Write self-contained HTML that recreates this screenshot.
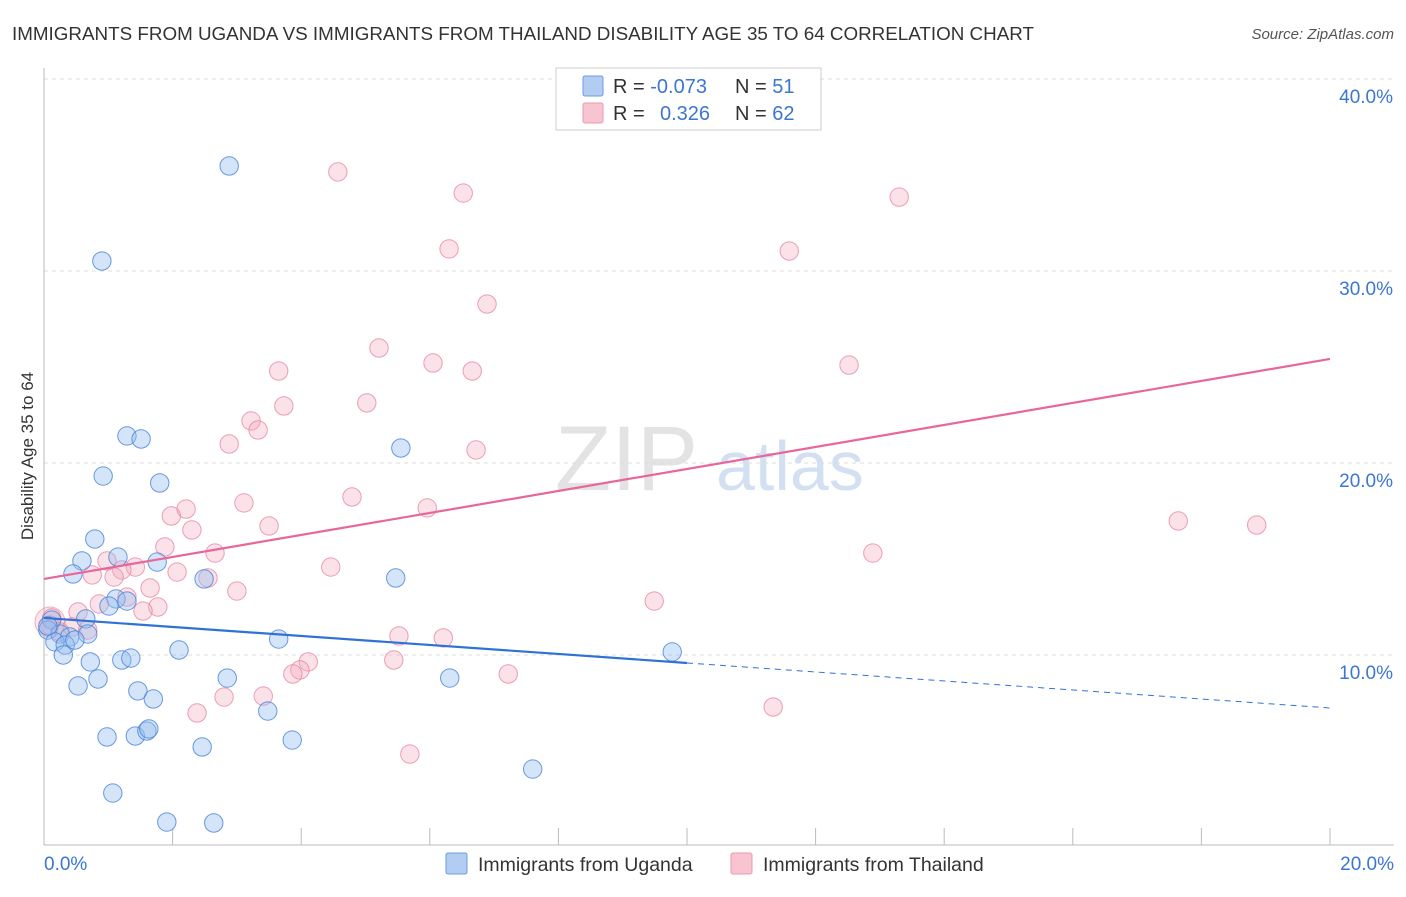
<!DOCTYPE html>
<html><head><meta charset="utf-8"><style>
body{margin:0;background:#fff;font-family:"Liberation Sans",sans-serif;}
svg text{font-family:"Liberation Sans",sans-serif;}
</style></head><body>
<svg id="c" width="1406" height="892" xmlns="http://www.w3.org/2000/svg">
<text x="12" y="40" font-size="18" fill="#333" textLength="1022" lengthAdjust="spacingAndGlyphs">IMMIGRANTS FROM UGANDA VS IMMIGRANTS FROM THAILAND DISABILITY AGE 35 TO 64 CORRELATION CHART</text>
<text x="1394" y="39" font-size="15" fill="#555" font-style="italic" text-anchor="end">Source: ZipAtlas.com</text>
<text x="33" y="456" font-size="17" fill="#333" text-anchor="middle" transform="rotate(-90 33 456)">Disability Age 35 to 64</text>
<g><text x="555" y="490" font-size="92" fill="#ddd" font-family="Liberation Serif" opacity="0.8">ZIP</text><text x="716" y="490" font-size="70" fill="#c9d9ef" opacity="0.8">atlas</text></g>
<g id="grid"></g>
<g id="axes"></g>
<g id="pts"></g>
<g id="lines"></g>
<g>
<rect x="556" y="68" width="265" height="62" fill="#fff" stroke="#ccc"/>
<rect x="583" y="76" width="20" height="20" fill="#b3cdf2" stroke="#6a9be0" rx="2"/>
<rect x="583" y="103" width="20" height="20" fill="#f8c4d2" stroke="#ea9ab1" rx="2"/>
<text x="613" y="93" font-size="20" fill="#333">R = <tspan fill="#3b76d0">-0.073</tspan><tspan x="735">N = </tspan><tspan fill="#3b76d0">51</tspan></text>
<text x="613" y="120" font-size="20" fill="#333">R = <tspan x="660" fill="#3b76d0">0.326</tspan><tspan x="735">N = </tspan><tspan fill="#3b76d0">62</tspan></text>
</g>
<g>
<rect x="446" y="853" width="21" height="21" fill="#b3cdf2" stroke="#6a9be0" rx="2"/>
<text x="478" y="871" font-size="19.5" fill="#333">Immigrants from Uganda</text>
<rect x="731" y="853" width="21" height="21" fill="#f8c4d2" stroke="#ea9ab1" rx="2"/>
<text x="763" y="871" font-size="19.5" fill="#333">Immigrants from Thailand</text>
</g>
</svg>
<script>
const yTicks=[10,20,30,40];
const yTickLabels=["10.0%","20.0%","30.0%","40.0%"];
const xTickLabels=["0.0%","20.0%"];
const ugandaX=[2.88,0.90,1.29,1.51,0.92,1.80,5.55,0.79,0.59,1.15,1.76,0.45,2.49,5.47,1.12,1.29,1.01,0.65,0.12,0.06,0.25,0.40,0.68,0.17,0.33,0.48,0.30,3.65,2.10,9.77,0.72,1.21,1.35,0.53,0.84,2.85,6.31,1.46,1.70,3.48,0.98,1.42,1.60,1.63,2.46,3.86,7.60,1.07,1.91,2.64,0.06];
const ugandaY=[35.47,30.52,21.41,21.25,19.32,18.96,20.78,16.04,14.90,15.10,14.84,14.22,13.96,14.01,12.92,12.81,12.55,11.88,11.82,11.30,11.09,10.94,11.09,10.68,10.52,10.78,10.00,10.83,10.26,10.16,9.64,9.74,9.84,8.39,8.75,8.80,8.80,8.13,7.71,7.08,5.73,5.78,6.04,6.15,5.21,5.57,4.06,2.81,1.30,1.25,11.51];
const thaiX=[4.57,6.52,13.30,6.30,11.59,6.89,5.21,6.05,3.65,6.66,12.52,5.02,3.73,3.22,3.33,2.88,6.72,4.79,3.11,2.21,1.98,5.96,3.50,2.30,17.64,18.86,1.88,2.66,12.89,0.98,1.42,1.21,0.75,2.07,4.46,1.09,2.55,1.65,3.00,1.29,0.86,9.49,1.77,1.54,0.53,0.12,0.44,5.52,6.21,0.68,4.11,5.44,3.98,3.87,7.22,3.41,2.80,2.38,11.34,5.69,0.09,0.25];
const thaiY=[35.16,34.06,33.85,31.15,31.04,28.28,25.99,25.21,24.79,24.79,25.10,23.13,22.97,22.19,21.72,20.99,20.68,18.23,17.92,17.60,17.24,17.66,16.72,16.51,16.98,16.77,15.63,15.31,15.31,14.90,14.58,14.43,14.17,14.32,14.58,14.06,14.01,13.49,13.33,13.02,12.66,12.81,12.50,12.29,12.24,11.93,11.46,10.99,10.89,11.30,9.64,9.74,9.22,9.01,9.01,7.86,7.81,6.98,7.29,4.84,11.56,11.20];
const ugandaTrend=[11.93,7.24];
const thaiTrend=[13.96,25.42];
const X0=44,X1=1330,Y0=847,PPY=19.2;
const sx=v=>X0+(X1-X0)*v/20, sy=v=>Y0-v*PPY;
const NS="http://www.w3.org/2000/svg";
function mk(p,t,a){const e=document.createElementNS(NS,t);for(const k in a)e.setAttribute(k,a[k]);document.getElementById(p).appendChild(e);return e;}
yTicks.forEach((t,i)=>{
 const l=mk('grid','line',{x1:44,x2:1394,y1:sy(t),y2:sy(t),stroke:'#ddd','stroke-dasharray':'4,4'});
 
 
 const tx=mk('grid','text',{x:1393,y:sy(t)+24,'font-size':19,fill:'#3b76d0','text-anchor':'end'});
 tx.textContent=yTickLabels[i];
 
 
});
mk('axes','line',{x1:44,x2:44,y1:68,y2:845,stroke:'#bbb'});
mk('axes','line',{x1:44,x2:1394,y1:845,y2:845,stroke:'#bbb'});
for(let i=0;i<=10;i++){const x=sx(i*2);const t=mk('axes','line',{x1:x,x2:x,y1:828,y2:845,stroke:'#bbb'});
 
 }
[[0,'start',44],[20,'end',1394]].forEach((d,i)=>{const t=mk('axes','text',{x:d[2],y:870,'font-size':19,fill:'#3b76d0','text-anchor':d[1]});t.textContent=xTickLabels[i];
 
 });
const big=mk('pts','circle',{cx:50,cy:622,r:15,fill:'rgba(244,168,190,0.3)',stroke:'rgba(230,130,160,0.6)'});


thaiX.forEach((x,i)=>{const c=mk('pts','circle',{cx:Math.max(sx(x),44),cy:sy(thaiY[i]),r:9.2,fill:'rgba(244,168,190,0.35)',stroke:'rgba(230,130,160,0.75)','stroke-width':1});
 
 });
ugandaX.forEach((x,i)=>{const c=mk('pts','circle',{cx:sx(x),cy:sy(ugandaY[i]),r:9.2,fill:'rgba(150,190,240,0.4)',stroke:'rgba(70,130,215,0.8)','stroke-width':1});
 
 });
const pl=mk('lines','line',{x1:sx(0),y1:sy(thaiTrend[0]),x2:sx(20),y2:sy(thaiTrend[1]),stroke:'#e8679a','stroke-width':2.2});


const um=ugandaTrend[0]+(ugandaTrend[1]-ugandaTrend[0])*0.5;
const bl=mk('lines','line',{x1:sx(0),y1:sy(ugandaTrend[0]),x2:sx(10),y2:sy(um),stroke:'#2f72d6','stroke-width':2.2});


const bd=mk('lines','line',{x1:sx(10),y1:sy(um),x2:sx(20),y2:sy(ugandaTrend[1]),stroke:'#2f72d6','stroke-width':1,'stroke-dasharray':'6,5'});


</script>
</body></html>
